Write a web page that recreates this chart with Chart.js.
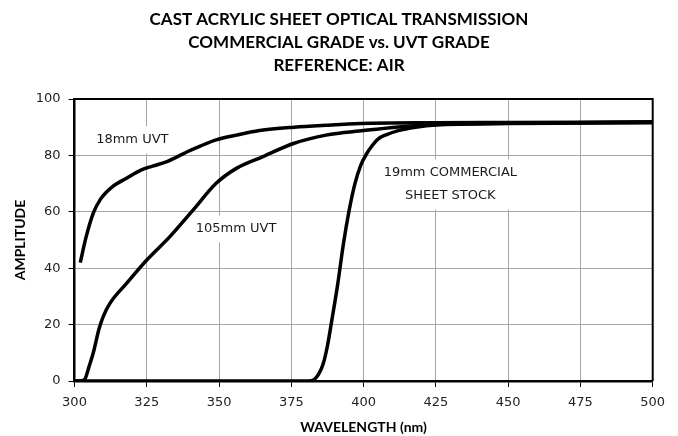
<!DOCTYPE html>
<html>
<head>
<meta charset="utf-8">
<script src="https://cdn.jsdelivr.net/npm/chart.js@4.4.0/dist/chart.umd.min.js"></script>
<style>
  html, body { margin: 0; padding: 0; background: #fff; }
  canvas { display: block; }
</style>
</head>
<body>
<canvas id="chart" width="678" height="436"></canvas>
<script>
// chart values

// 18mm UVT sheet
const wavelength18 = [302, 304, 306.5, 309, 313, 318, 323, 327, 332, 335.5, 339, 343.5, 349, 356, 364, 376, 387, 399, 425, 450, 475, 500];
const amplitude18 = [42, 51, 59.5, 64.5, 68.8, 71.9, 74.8, 76.2, 77.8, 79.5, 81.3, 83.3, 85.5, 87.2, 88.8, 90, 90.7, 91.3, 91.6, 91.7, 91.8, 91.9];

// 105mm UVT sheet
const wavelength105 = [300, 302, 303.6, 305, 306.5, 308.5, 310, 312.3, 318, 325, 333, 341, 349, 356, 365, 376, 387, 400, 411, 425, 450, 500];
const amplitude105 = [0, 0, 0.7, 5, 10, 18.5, 23, 27.6, 34.6, 42.9, 51.2, 60.6, 70.1, 75.4, 79.5, 84.3, 87.2, 88.8, 90, 91, 91.4, 91.8];

// 19mm commercial sheet stock
const wavelengthCommercial = [300, 381, 383, 384.5, 386, 387.5, 389, 391, 393, 395, 397, 399, 401, 403, 405, 408, 412, 418, 425, 450, 500];
const amplitudeCommercial = [0, 0, 0.6, 2.5, 6, 12.5, 21.5, 34, 48.5, 60.5, 70, 76.5, 80.5, 83.5, 85.8, 87.4, 88.8, 90, 90.8, 91.3, 91.6];

// curve labels: text lines and the data point they sit on
const labelTexts = [['18mm UVT'], ['105mm UVT'], ['19mm COMMERCIAL', 'SHEET STOCK']];
const labelWavelengths = [320, 355.9, 430];
const labelAmplitudes = [85.5, 53.9, 69.7];

const titleLines = ['CAST ACRYLIC SHEET OPTICAL TRANSMISSION', 'COMMERCIAL GRADE vs. UVT GRADE', 'REFERENCE: AIR'];

function toPoints(xs, ys) {
    return xs.map((x, i) => ({ x: x, y: ys[i] }));
}

// black frame round the plot area
const framePlugin = {
    id: 'frame',
    afterDraw(chart) {
        const { ctx, chartArea } = chart;
        ctx.save();
        ctx.strokeStyle = '#000';
        ctx.lineWidth = 2;
        ctx.beginPath();
        ctx.moveTo(chartArea.left, chartArea.top);
        ctx.lineTo(chartArea.right, chartArea.top);
        ctx.lineTo(chartArea.right, chartArea.bottom);
        ctx.stroke();
        ctx.restore();
    }
};

// text labels on white boxes that hide the grid
const curveLabelPlugin = {
    id: 'curveLabels',
    beforeDatasetsDraw(chart) {
        const { ctx, scales } = chart;
        ctx.save();
        ctx.font = '13px "DejaVu Sans"';
        ctx.textAlign = 'center';
        ctx.textBaseline = 'middle';
        const lineGap = 23;
        labelTexts.forEach((lines, i) => {
            const cx = scales.x.getPixelForValue(labelWavelengths[i]);
            const cy = scales.y.getPixelForValue(labelAmplitudes[i]);
            const w = Math.max(...lines.map(t => ctx.measureText(t).width)) + 8;
            const h = lines.length * lineGap + 4;
            ctx.fillStyle = '#fff';
            ctx.fillRect(cx - w / 2, cy - h / 2, w, h);
            ctx.fillStyle = '#1a1a1a';
            lines.forEach((t, j) => {
                ctx.fillText(t, cx, cy + (j - (lines.length - 1) / 2) * lineGap);
            });
        });
        ctx.restore();
    }
};

function makeDataset(label, xs, ys) {
    return {
        label: label,
        data: toPoints(xs, ys),
        borderColor: '#000',
        borderWidth: 3.5,
        pointRadius: 0,
        fill: false,
        cubicInterpolationMode: 'monotone'
    };
}

window.onload = function() {
    const tickFont = { family: '"DejaVu Sans"', size: 13 };
    const axisTitleFont = { family: 'Lato', size: 14, weight: 'bold' };

    new Chart(document.getElementById('chart'), {
        type: 'line',
        data: {
            datasets: [
                makeDataset('18mm UVT', wavelength18, amplitude18),
                makeDataset('105mm UVT', wavelength105, amplitude105),
                makeDataset('19mm COMMERCIAL SHEET STOCK', wavelengthCommercial, amplitudeCommercial)
            ]
        },
        options: {
            responsive: false,
            animation: false,
            devicePixelRatio: 1,
            layout: { padding: 0 },
            plugins: {
                legend: { display: false },
                tooltip: { enabled: false },
                title: {
                    display: true,
                    text: titleLines,
                    color: '#000',
                    font: { family: 'Lato', size: 17, weight: 'bold', lineHeight: 1.353 },
                    padding: { top: 8, bottom: 22 }
                }
            },
            scales: {
                x: {
                    type: 'linear',
                    min: 300,
                    max: 500,
                    // room on the right so the title stays centred on the whole page
                    afterFit: scale => { scale.height = 55; scale.paddingRight = 25.3; },
                    ticks: { stepSize: 25, color: '#222', font: tickFont, padding: 8, maxRotation: 0 },
                    grid: { color: '#a6a6a6', lineWidth: 1, tickColor: '#000', tickLength: 6 },
                    border: { color: '#000', width: 2.5 },
                    title: {
                        display: true,
                        text: 'WAVELENGTH (nm)',
                        color: '#000',
                        font: axisTitleFont,
                        padding: { top: 0, bottom: 0.6 }
                    }
                },
                y: {
                    min: 0,
                    max: 100,
                    afterFit: scale => { scale.width = 74.5; },
                    ticks: { stepSize: 20, color: '#222', font: tickFont, padding: 8 },
                    grid: { color: '#a6a6a6', lineWidth: 1, tickColor: '#000', tickLength: 6 },
                    border: { color: '#000', width: 2.5 },
                    title: {
                        display: true,
                        text: 'AMPLITUDE',
                        color: '#000',
                        font: axisTitleFont,
                        padding: { top: 12, bottom: 0 }
                    }
                }
            }
        },
        plugins: [curveLabelPlugin, framePlugin]
    });
};
</script>
</body>
</html>
